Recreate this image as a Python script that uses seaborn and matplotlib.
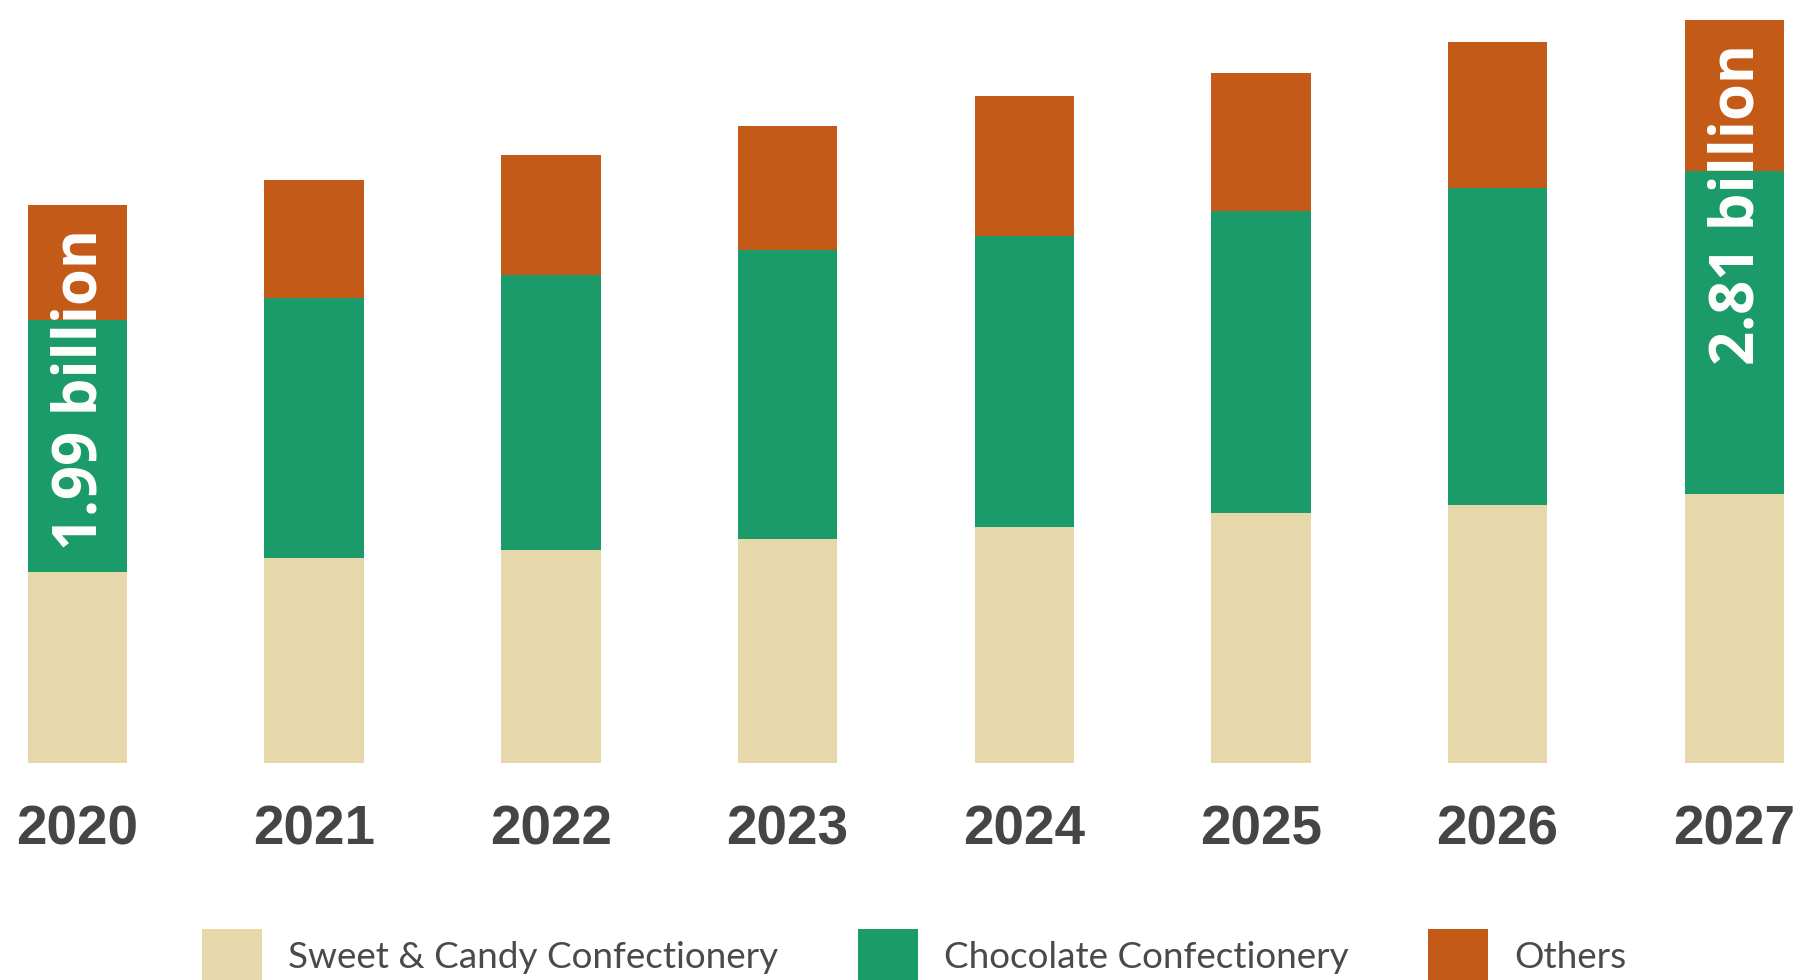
import matplotlib
matplotlib.use('Agg')

import matplotlib.pyplot as plt
from matplotlib.patches import Patch
import numpy as np
import pandas as pd
import seaborn as sns

# values (billions, approx)
years = ['2020', '2021', '2022', '2023', '2024', '2025', '2026', '2027']
sweet_candy = [0.68, 0.73, 0.76, 0.80, 0.84, 0.89, 0.92, 0.96]
chocolate = [0.90, 0.93, 0.98, 1.03, 1.04, 1.08, 1.13, 1.15]
others = [0.41, 0.42, 0.43, 0.44, 0.50, 0.49, 0.52, 0.54]
total_labels = {'2020': '1.99 billion', '2027': '2.81 billion'}

series = ['Sweet & Candy Confectionery', 'Chocolate Confectionery', 'Others']
colors = ['#E6D8AB', '#1B9B69', '#C45A18']

df = pd.DataFrame({'year': years, 'sweet': sweet_candy, 'choc': chocolate, 'others': others})
df['l1'] = df['sweet']
df['l2'] = df['l1'] + df['choc']
df['l3'] = df['l2'] + df['others']

sns.set_style('white')

fig = plt.figure(figsize=(17.94, 9.80), dpi=100)
ax = fig.add_axes([27.8 / 1794, 217 / 980, (1784 - 27.8) / 1794, 763 / 980])

# stacked bars: draw the cumulative totals back to front
for col, c in zip(['l3', 'l2', 'l1'], colors[::-1]):
    sns.barplot(data=df, x='year', y=col, color=c, saturation=1, width=0.42, ax=ax, linewidth=0)

ax.set_xlim(-0.21, 7.21)
ax.set_ylim(0, 2.721)
ax.set_xlabel('')
ax.set_ylabel('')
ax.set_yticks([])
sns.despine(ax=ax, left=True, bottom=True)
ax.tick_params(axis='x', length=0, pad=30, labelsize=39.5, labelcolor='#454545')
for lab in ax.get_xticklabels():
    lab.set_fontweight('bold')
    lab.set_family('Liberation Sans')

for i, y in enumerate(years):
    if y in total_labels:
        ax.annotate(total_labels[y], xy=(i, df['l3'][i]), xytext=(2.5, -17),
                    textcoords='offset points', rotation=90, ha='center', va='top',
                    color='white', fontsize=43, fontweight='bold', family='Open Sans')

handles = [Patch(facecolor=c, edgecolor='none', label=s) for s, c in zip(series, colors)]
leg = fig.legend(handles=handles, loc='center left', bbox_to_anchor=(202 / 1794, 24 / 980),
                 ncol=3, frameon=False, handlelength=1.63, handleheight=1.9,
                 handletextpad=0.7, columnspacing=2.15, borderpad=0, borderaxespad=0,
                 prop={'family': 'Lato', 'size': 26.6})
for t in leg.get_texts():
    t.set_color('#4a4a4a')

fig.savefig('out.png', dpi=100, facecolor='white')
